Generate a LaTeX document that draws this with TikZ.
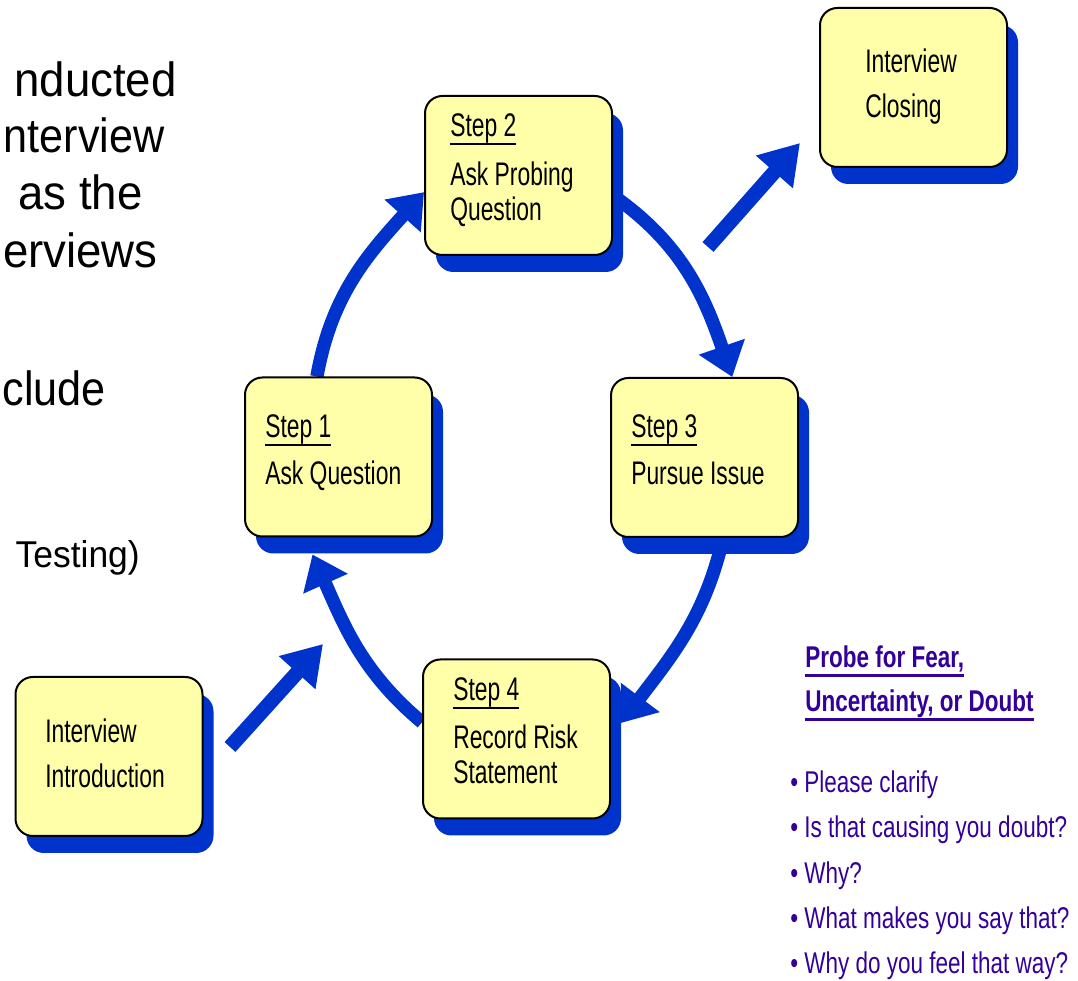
\documentclass[tikz,border=0pt]{standalone}
\usepackage{fontspec}
\setmainfont{Liberation Sans}
\newfontfamily\boxfont[FakeStretch=0.70]{Liberation Sans}
\newfontfamily\notefont[FakeStretch=0.75]{Liberation Sans}
\newfontfamily\headfont[FakeStretch=0.75]{Liberation Sans}
\newfontfamily\slidefont[FakeStretch=0.95]{Liberation Sans}
\newfontfamily\slidenarrow[FakeStretch=0.9]{Liberation Sans}
\usetikzlibrary{arrows.meta,calc,backgrounds}
\definecolor{arrowblue}{RGB}{0,51,204}
\definecolor{boxyellow}{RGB}{255,255,170}
\definecolor{notepurple}{RGB}{51,0,153}
\newsavebox\myulbox
\newcommand\stepul[1]{\sbox\myulbox{#1}\rlap{\rule[-6.2pt]{\wd\myulbox}{1.8pt}}\usebox\myulbox}
\newcommand\headul[1]{\sbox\myulbox{#1}\rlap{\rule[-6.5pt]{\wd\myulbox}{2.2pt}}\usebox\myulbox}
\begin{document}
\begin{tikzpicture}[x=0.75pt,y=0.75pt,
  stepbox/.style={draw=black, line width=1.5pt, fill=boxyellow, rounded corners=13pt,
    minimum width=140.25pt, minimum height=119.25pt, inner sep=0pt,
    preaction={fill=arrowblue, draw=none, transform canvas={xshift=8.25pt,yshift=-12.75pt}}},
  boxtxt/.style={anchor=base west, inner sep=0pt, font=\boxfont\fontsize{24.5}{29}\selectfont},
  notetxt/.style={anchor=base west, inner sep=0pt, text=notepurple, font=\notefont\fontsize{22.5}{27}\selectfont},
  headtxt/.style={anchor=base west, inner sep=0pt, text=notepurple, font=\headfont\bfseries\fontsize{22.5}{27}\selectfont},
  slidetxt/.style={anchor=base east, inner sep=0pt, font=\slidefont\fontsize{36}{43}\selectfont},
  cyc/.style={draw=arrowblue, line width=10pt, -{Triangle[length=24pt,width=35pt]}},
  straightarr/.style={draw=arrowblue, line width=11pt, -{Triangle[length=29pt,width=35pt]}}
]
\useasboundingbox (0,0) rectangle (1078,981);

% boxes
\node[stepbox] (s2) at (518.5,805.5) {};
\node[stepbox] (cl) at (913.5,893.5) {};
\node[stepbox] (s1) at (338.5,524) {};
\node[stepbox] (s3) at (704.5,523.5) {};
\node[stepbox] (s4) at (516.5,242) {};
\node[stepbox] (in) at (109,224.5) {};

% cycle arrows
\begin{pgfonlayer}{background}
\draw[cyc] (s1.105) to[out=80,in=228] (s2.190);
\draw[cyc] (s2.348) to[out=-35,in=109] (s3.71);
\draw[cyc] (s3.-77) to[out=-103,in=53] ($(s4.east)+(10,16)$);
\draw[cyc] (s4.170) to[out=140,in=-66] ($(s1.south)+(-26,-17)$);
\end{pgfonlayer}

% straight arrows
\coordinate (intail) at (230,234);
\coordinate (intip) at (323,337);
\coordinate (cltail) at (708,734);
\coordinate (cltip) at (800,838);
\draw[straightarr] (intail) -- (intip);
\draw[straightarr] (cltail) -- (cltip);

% box texts
\node[boxtxt] (t1a) at (265,543) {\stepul{Step 1}};
\node[boxtxt] (t1b) at (265,496) {Ask Question};
\node[boxtxt] (t2a) at (450,844) {\stepul{Step 2}};
\node[boxtxt] (t2b) at (450,795) {Ask Probing};
\node[boxtxt] (t2c) at (450,760) {Question};
\node[boxtxt] (t3a) at (631,543) {\stepul{Step 3}};
\node[boxtxt] (t3b) at (631,496) {Pursue Issue};
\node[boxtxt] (t4a) at (453,280) {\stepul{Step 4}};
\node[boxtxt] (t4b) at (453,232) {Record Risk};
\node[boxtxt] (t4c) at (453,197) {Statement};
\node[boxtxt] (tca) at (865,908) {Interview};
\node[boxtxt] (tcb) at (865,863) {Closing};
\node[boxtxt] (tia) at (45,238) {Interview};
\node[boxtxt] (tib) at (45,193) {Introduction};

% right notes
\node[headtxt] (h1) at (805,313) {\headul{Probe for Fear,}};
\node[headtxt] (h2) at (805,269) {\headul{Uncertainty, or Doubt}};
\node[notetxt] (b1) at (790,188) {\textbullet\ Please clarify};
\node[notetxt] (b2) at (790,143) {\textbullet\ Is that causing you doubt?};
\node[notetxt] (b3) at (790,97) {\textbullet\ Why?};
\node[notetxt] (b4) at (790,52) {\textbullet\ What makes you say that?};
\node[notetxt] (b5) at (790,7) {\textbullet\ Why do you feel that way?};

% left slide text fragments
\node[slidetxt] (l1) at (177,884) {nducted};
\node[slidetxt, font=\slidenarrow\fontsize{36}{43}\selectfont] (l2) at (165,828) {nterview};
\node[slidetxt] (l3) at (143,771) {as the};
\node[slidetxt] (l4) at (158,713) {erviews};
\node[slidetxt, font=\slidenarrow\fontsize{36}{43}\selectfont] (l5) at (106,575) {clude};
\node[slidetxt, font=\slidefont\fontsize{28}{34}\selectfont] (l6) at (140,413) {Testing)};
\end{tikzpicture}
\end{document}
